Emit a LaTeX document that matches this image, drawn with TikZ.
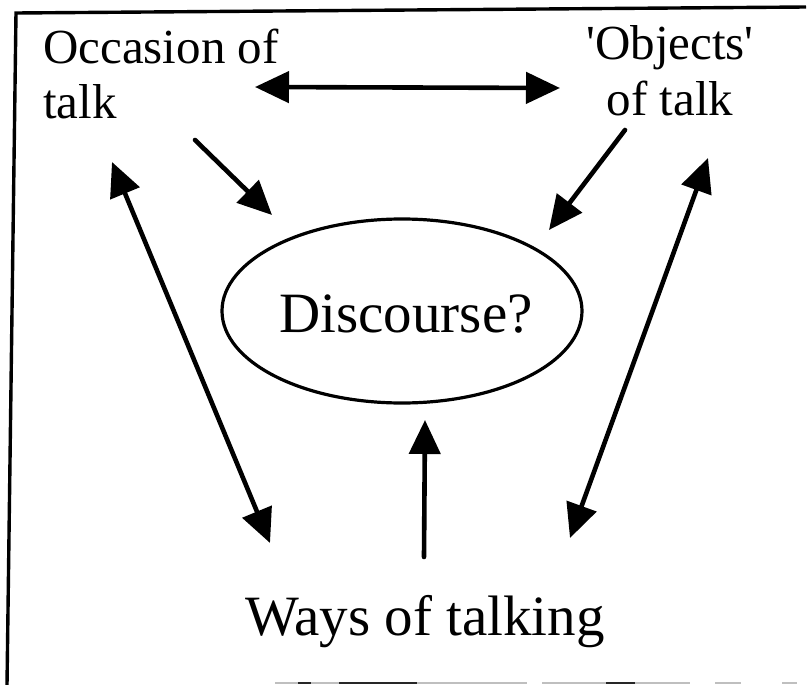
\documentclass[tikz,border=0pt]{standalone}
\usepackage{fontspec}
\setmainfont{Liberation Serif}
\usetikzlibrary{arrows.meta,shapes.geometric}

\tikzset{
  label text/.style={inner sep=0pt, font=\fontsize{49}{55}\selectfont},
  link/.style={line width=4.6pt, line cap=round, -{Triangle[length=34pt,width=31pt]}},
  twoway/.style={line width=4.6pt, line cap=round,
    {Triangle[length=34pt,width=31pt]}-{Triangle[length=34pt,width=31pt]}},
  frame/.style={line width=3.4pt},
  scanedge/.style={line width=2pt, black!25},
  scandark/.style={line width=2pt, black!85},
}

\begin{document}
\begin{tikzpicture}[x=1pt,y=-1pt]
  \useasboundingbox (0,0) rectangle (809,685);

  % open frame: top and left edges
  \draw[frame] (806,7) -- (16,13) -- (7,685);
  % faint lower edge
  \draw[scanedge] (275,683) -- (527,683);
  \draw[scanedge] (542,683) -- (690,683);
  \draw[scanedge] (715,683) -- (741,683);
  \draw[scanedge] (782,683) -- (797,683);
  \draw[scandark] (298,683) -- (311,683);
  \draw[scandark] (339,683) -- (417,683);
  \draw[scandark] (606,683) -- (635,683);

  % labels (base anchor sits on the last line)
  \node[label text, anchor=base west, align=left] (occ) at (43,118)
    {Occasion of\\talk};
  \node[label text, anchor=base, align=center] (obj) at (670,115)
    {\textquotesingle Objects\textquotesingle\\of talk};
  \node[draw, ellipse, line width=3.2pt, minimum width=360pt, minimum height=184pt,
        inner sep=0pt] (disc) at (402,311) {};
  \node[inner sep=0pt, font=\fontsize{57}{60}\selectfont, anchor=base] (disctext)
    at (406,332) {Discourse?};
  \node[inner sep=0pt, font=\fontsize{57}{60}\selectfont, anchor=base] (ways)
    at (425,635) {Ways of talking};

  % connector end points
  \coordinate (occ-r) at (255,87);
  \coordinate (obj-l) at (560,88);
  \coordinate (occ-out) at (195,140);
  \coordinate (disc-nw) at (272,215);
  \coordinate (obj-out) at (625,130);
  \coordinate (disc-ne) at (549,230);
  \coordinate (occ-down) at (112,162);
  \coordinate (ways-l) at (270,543);
  \coordinate (ways-up) at (424,557);
  \coordinate (disc-s) at (425,420);
  \coordinate (obj-down) at (708,158);
  \coordinate (ways-r) at (570,538);

  % connectors
  \draw[twoway] (occ-r) -- (obj-l);
  \draw[link] (occ-out) -- (disc-nw);
  \draw[link] (obj-out) -- (disc-ne);
  \draw[twoway] (occ-down) -- (ways-l);
  \draw[link] (ways-up) -- (disc-s);
  \draw[twoway] (obj-down) -- (ways-r);
\end{tikzpicture}
\end{document}
